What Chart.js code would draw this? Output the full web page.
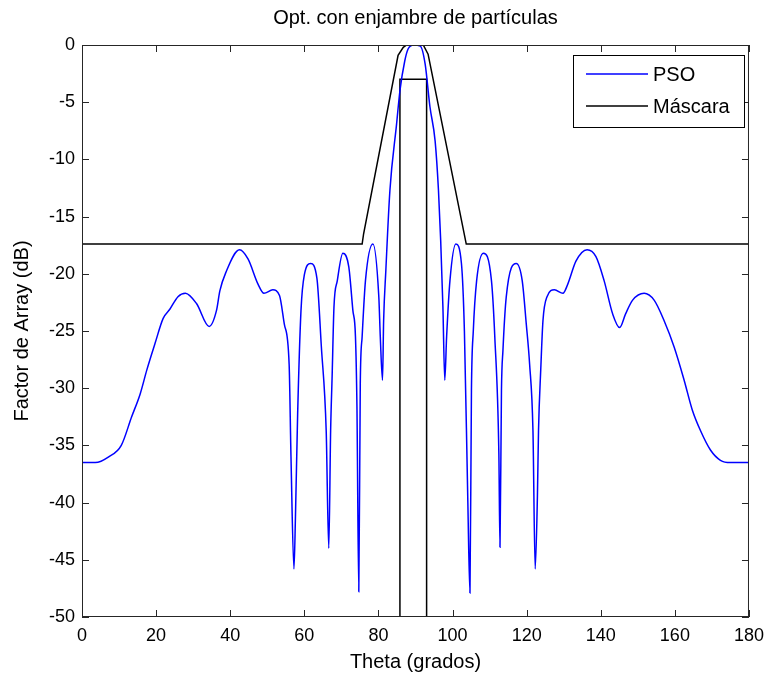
<!DOCTYPE html>
<html>
<head>
<meta charset="utf-8">
<script src="https://cdn.jsdelivr.net/npm/chart.js@4/dist/chart.umd.min.js"></script>
<style>
  body { margin: 0; background: #fff; }
  #wrap { width: 772px; height: 679px; }
</style>
</head>
<body>
<div id="wrap"><canvas id="afChart" width="772" height="679"></canvas></div>
<script>
// PSO array factor (theta in degrees, AF in dB)
var thetaPSO = [0, 3.6, 7.2, 10.6, 13.4, 15.7, 17.5, 19.7, 21.9, 23.7, 25.9, 27.9, 30.9, 34.3, 36.3, 37.2, 38.8,
    42.5, 44.8, 47.5, 49.1, 51.5, 53.3, 54.6, 55.9, 56.4, 57.2, 57.6, 58.2, 59.1, 60.0, 61.7, 63.4, 64.6, 65.9,
    66.6, 67.1, 67.5, 68.0, 68.9, 70.4, 72.0, 73.1, 73.8, 74.2, 74.7, 75.1, 75.6, 76.5, 78.5, 80.1, 80.5, 81.1,
    81.4, 82.0, 83.1, 84.9, 85.8, 87.1, 88.0, 89.5, 91.3, 92.6, 93.9, 95.3, 96.2, 96.8, 97.4, 97.9, 98.4, 99.3,
    100.9, 102.4, 103.2, 104.1, 104.7, 105.1, 105.6, 106.5, 108.3, 110.5, 111.4, 112.5, 112.8, 113.2, 113.6,
    114.5, 117.2, 118.8, 119.9, 120.8, 121.7, 122.3, 122.9, 123.2, 123.8, 124.4, 125.5, 127.5, 129.8, 131.1,
    133.3, 136.3, 138.7, 140.9, 143.2, 145.1, 146.7, 148.6, 151.7, 154.4, 157.1, 159.8, 162.5, 164.7, 166.9,
    169.6, 172.3, 175.0, 180];
var afPSO = [-36.5, -36.5, -36.0, -35.0, -32.5, -30.5, -28.4, -26.1, -23.9, -23.1, -22.0, -21.7, -22.6, -24.6, -23.2, -21.5, -19.9,
    -17.9, -18.7, -20.9, -21.7, -21.4, -21.9, -24.4, -27.9, -36.0, -45.8, -41.3, -32.2, -23.2, -20.1, -19.1, -20.4, -26.4, -33.7,
    -44.0, -33.7, -29.0, -22.9, -20.6, -18.2, -19.4, -23.2, -25.5, -31.6, -47.8, -29.6, -25.5, -20.6, -17.4, -22.0, -25.5, -29.3,
    -24.1, -19.7, -12.7, -6.9, -4.0, -1.4, -0.35, 0, -0.1, -1.66, -5.4, -8.4, -12.7, -17.1, -22.9, -29.3, -25.5, -20.6,
    -17.4, -19.1, -25.0, -39.5, -47.9, -30.2, -25.0, -20.6, -18.2, -20.6, -25.5, -35.7, -43.9, -30.2, -26.7,
    -22.0, -19.1, -20.6, -24.4, -27.9, -33.7, -45.8, -39.5, -33.7, -28.4, -24.1, -22.0, -21.4, -21.7, -20.9,
    -18.9, -17.9, -18.5, -20.6, -23.5, -24.7, -23.5, -22.3, -21.7, -22.3, -24.1, -26.4, -29.3, -31.9, -33.7,
    -35.4, -36.3, -36.5, -36.5];

// mask (outer trapezoid) and the inner -3 dB rectangle
var thetaMask = [0, 75.6, 76.0, 85.3, 86.7, 87.6, 92.1, 93.4, 103.7, 180];
var afMask = [-17.4, -17.4, -16.5, -0.9, -0.2, 0, 0, -0.8, -17.4, -17.4];
var thetaRect = [85.8, 85.8, 93.0, 93.0];
var afRect = [-50, -3, -3, -50];

var xTicks = [0, 20, 40, 60, 80, 100, 120, 140, 160, 180];
var yTicks = [0, -5, -10, -15, -20, -25, -30, -35, -40, -45, -50];

function toPoints(xs, ys) {
    var pts = [];
    for (var i = 0; i < xs.length; i++) pts.push({x: xs[i], y: ys[i]});
    return pts;
}

var FONT = "'Liberation Sans', Arial, sans-serif";

// MATLAB look: box, inward ticks, title and legend inside the axes
var matlabAxes = {
    id: 'matlabAxes',
    afterDraw: function(chart) {
        var ctx = chart.ctx, a = chart.chartArea;
        var xs = chart.scales.x, ys = chart.scales.y;
        ctx.save();
        ctx.strokeStyle = '#262626';
        ctx.lineWidth = 1;
        ctx.strokeRect(a.left + 0.5, a.top + 0.5, a.right - a.left - 1, a.bottom - a.top - 1);
        ctx.beginPath();
        xTicks.forEach(function(v) {
            var px = Math.round(xs.getPixelForValue(v)) + 0.5;
            ctx.moveTo(px, a.bottom); ctx.lineTo(px, a.bottom - 7);
            ctx.moveTo(px, a.top); ctx.lineTo(px, a.top + 7);
        });
        yTicks.forEach(function(v) {
            var py = Math.round(ys.getPixelForValue(v)) + 0.5;
            ctx.moveTo(a.left, py); ctx.lineTo(a.left + 7, py);
            ctx.moveTo(a.right, py); ctx.lineTo(a.right - 7, py);
        });
        ctx.stroke();

        // title
        ctx.fillStyle = '#000';
        ctx.font = '20px ' + FONT;
        ctx.textAlign = 'center';
        ctx.textBaseline = 'middle';
        ctx.fillText('Opt. con enjambre de partículas', (a.left + a.right) / 2, 18);

        // legend
        var items = chart.data.datasets.filter(function(d) { return d.label; });
        var bx = 573, by = 55, bw = 171, bh = 72;
        ctx.fillStyle = '#fff';
        ctx.fillRect(bx, by, bw, bh);
        ctx.strokeStyle = '#000';
        ctx.strokeRect(bx + 0.5, by + 0.5, bw, bh);
        ctx.textAlign = 'left';
        ctx.font = '20px ' + FONT;
        items.forEach(function(d, i) {
            var ly = by + 19 + i * 32;
            ctx.strokeStyle = d.borderColor;
            ctx.lineWidth = 1.5;
            ctx.beginPath();
            ctx.moveTo(bx + 13, ly); ctx.lineTo(bx + 75, ly);
            ctx.stroke();
            ctx.fillStyle = '#000';
            ctx.fillText(d.label, bx + 80, ly + 1);
        });
        ctx.restore();
    }
};

var ctx = document.getElementById('afChart').getContext('2d');
var myChart = new Chart(ctx, {
    type: 'scatter',
    data: {
        datasets: [{
            label: 'PSO',
            data: toPoints(thetaPSO, afPSO),
            showLine: true,
            borderColor: '#0000ff',
            borderWidth: 1.5,
            pointRadius: 0,
            cubicInterpolationMode: 'monotone'
        }, {
            label: 'Máscara',
            data: toPoints(thetaMask, afMask),
            showLine: true,
            borderColor: '#000000',
            borderWidth: 1.5,
            pointRadius: 0
        }, {
            data: toPoints(thetaRect, afRect),
            showLine: true,
            borderColor: '#000000',
            borderWidth: 1.5,
            pointRadius: 0
        }]
    },
    options: {
        responsive: false,
        animation: false,
        layout: { padding: { top: 45, right: 20, bottom: 0, left: 0 } },
        plugins: {
            legend: { display: false },
            title: { display: false },
            tooltip: { enabled: false }
        },
        scales: {
            x: {
                type: 'linear',
                min: 0, max: 180,
                afterFit: function(s) { s.height = 62; },
                afterBuildTicks: function(s) { s.ticks = xTicks.map(function(v) { return {value: v}; }); },
                grid: { display: false, drawTicks: false },
                border: { display: false },
                ticks: { color: '#000', padding: 8, maxRotation: 0, font: { family: FONT, size: 18 } },
                title: { display: true, text: 'Theta (grados)', color: '#000', padding: { top: 0, bottom: 5 }, font: { family: FONT, size: 20 } }
            },
            y: {
                min: -50, max: 0,
                afterFit: function(s) { s.width = 82; },
                afterBuildTicks: function(s) { s.ticks = yTicks.map(function(v) { return {value: v}; }); },
                grid: { display: false, drawTicks: false },
                border: { display: false },
                ticks: { color: '#000', padding: 7, font: { family: FONT, size: 18 } },
                title: { display: true, text: 'Factor de Array (dB)', color: '#000', padding: { top: 10, bottom: 0 }, font: { family: FONT, size: 20 } }
            }
        }
    },
    plugins: [matlabAxes]
});
</script>
</body>
</html>
